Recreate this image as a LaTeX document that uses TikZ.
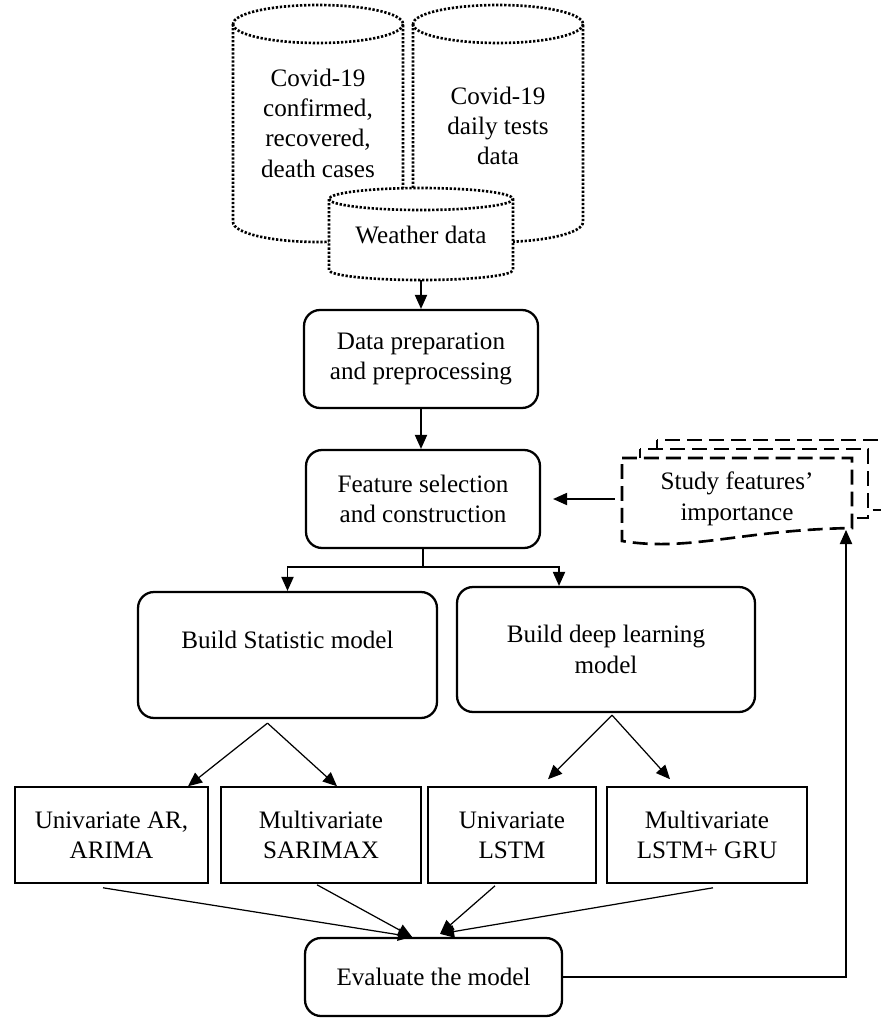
\documentclass[tikz,border=0pt]{standalone}
\usepackage{fontspec}
\setmainfont{Liberation Serif}
\usetikzlibrary{arrows.meta}

\begin{document}
\begin{tikzpicture}[x=0.02cm,y=-0.02cm,
	font=\fontsize{14.3}{17.3}\selectfont,
	dots/.style={line width=1.5pt,dash pattern=on 1.3pt off 1pt,fill=white},
	dashes/.style={line width=1.5pt,dash pattern=on 8.5pt off 4pt,fill=white},
	procbox/.style={draw,line width=1.3pt,rounded corners=0.32cm,align=center,inner sep=0pt},
	modelbox/.style={draw,line width=0.9pt,align=center,inner sep=0pt,minimum height=1.92cm},
	arr/.style={-{Triangle[length=8pt,width=7pt]},line width=0.7pt}]
	\useasboundingbox (0,0) rectangle (881,1018);
	\draw[dots] (233,24) -- (233,222) arc[start angle=180,end angle=360,x radius=1.7cm,y radius=0.4cm] -- (403,24) arc[start angle=0,end angle=180,x radius=1.7cm,y radius=0.38cm] -- cycle;
	\draw[dots,fill=none] (233,24) arc[start angle=180,end angle=360,x radius=1.7cm,y radius=0.38cm];
	\draw[dots] (413,24) -- (413,222) arc[start angle=180,end angle=360,x radius=1.7cm,y radius=0.4cm] -- (583,24) arc[start angle=0,end angle=180,x radius=1.7cm,y radius=0.38cm] -- cycle;
	\draw[dots,fill=none] (413,24) arc[start angle=180,end angle=360,x radius=1.7cm,y radius=0.38cm];
	\draw[dots] (329,199) -- (329,270) arc[start angle=180,end angle=360,x radius=1.84cm,y radius=0.2cm] -- (513,199) arc[start angle=0,end angle=180,x radius=1.84cm,y radius=0.22cm] -- cycle;
	\draw[dots,fill=none] (329,199) arc[start angle=180,end angle=360,x radius=1.84cm,y radius=0.22cm];
	\node[align=center] (cases) at (318,123) {Covid-19\\confirmed,\\recovered,\\death cases};
	\node[align=center] (tests) at (498,126) {Covid-19\\daily tests\\data};
	\node (weather) at (421,235) {Weather data};
	\coordinate (wbot) at (421,280);
	\node[procbox,minimum width=4.68cm,minimum height=1.96cm] (prep) at (421,359) {Data preparation\\and preprocessing};
	\node[procbox,minimum width=4.68cm,minimum height=1.96cm] (feat) at (423,499) {Feature selection\\and construction};
	\node[procbox,minimum width=5.98cm,minimum height=2.52cm] (stat) at (287.5,655) {Build Statistic model\\~};
	\node[procbox,minimum width=5.96cm,minimum height=2.5cm] (deep) at (606,649.5) {Build deep learning\\model};
	\node[modelbox,minimum width=3.86cm] (uar) at (111.5,835) {Univariate AR,\\ARIMA};
	\node[modelbox,minimum width=4cm] (msar) at (321,835) {Multivariate\\SARIMAX};
	\node[modelbox,minimum width=3.36cm] (ulstm) at (512,835) {Univariate\\LSTM};
	\node[modelbox,minimum width=4cm] (mlstm) at (707,835) {Multivariate\\LSTM+ GRU};
	\node[procbox,minimum width=5.14cm,minimum height=1.56cm] (eval) at (433.5,977) {Evaluate the model};
	\draw[dashes] (657,440) rectangle (884,510);
	\draw[dashes] (640,449) rectangle (868,518);
	\draw[dashes] (622,458) -- (852,458) -- (852,528) .. controls (740,530) and (690,552) .. (622,541) -- cycle;
	\node[align=center,minimum width=4.6cm,minimum height=1.4cm,inner sep=0pt] (study) at (737,499) {Study features’\\importance};
	\draw[arr] (wbot) -- (prep);
	\draw[arr] (prep.south) -- (prep.south |- feat.north);
	\coordinate (split) at (423,567);
	\draw[line width=0.7pt] (feat.south) -- (split);
	\draw[arr] (split) -| (stat.north);
	\draw[arr] (split) -| ([xshift=-0.94cm]deep.north);
	\draw[arr] ([xshift=-0.14cm]study.west) -- ([xshift=0.24cm]feat.east);
	\draw[arr] ([xshift=-0.4cm,yshift=-0.08cm]stat.south) -- ([xshift=1.53cm]uar.north);
	\draw[arr] ([xshift=-0.4cm,yshift=-0.08cm]stat.south) -- ([xshift=0.32cm]msar.north);
	\draw[arr] ([xshift=0.12cm,yshift=-0.04cm]deep.south) -- ([xshift=0.72cm,yshift=0.14cm]ulstm.north);
	\draw[arr] ([xshift=0.12cm,yshift=-0.04cm]deep.south) -- ([xshift=-0.74cm,yshift=0.14cm]mlstm.north);
	\draw[arr] ([xshift=-0.17cm,yshift=-0.08cm]uar.south) -- ([xshift=-0.43cm]eval.north);
	\draw[arr] ([xshift=-0.08cm,yshift=-0.02cm]msar.south) -- ([xshift=-0.43cm]eval.north);
	\draw[arr] ([xshift=-0.34cm,yshift=-0.04cm]ulstm.south) -- ([xshift=0.13cm,yshift=0.06cm]eval.north);
	\draw[arr] ([xshift=0.12cm,yshift=-0.08cm]mlstm.south) -- ([xshift=0.13cm,yshift=0.06cm]eval.north);
	\coordinate (fb) at (846,530);
	\draw[arr] (eval.east) -| (fb);
\end{tikzpicture}
\end{document}
